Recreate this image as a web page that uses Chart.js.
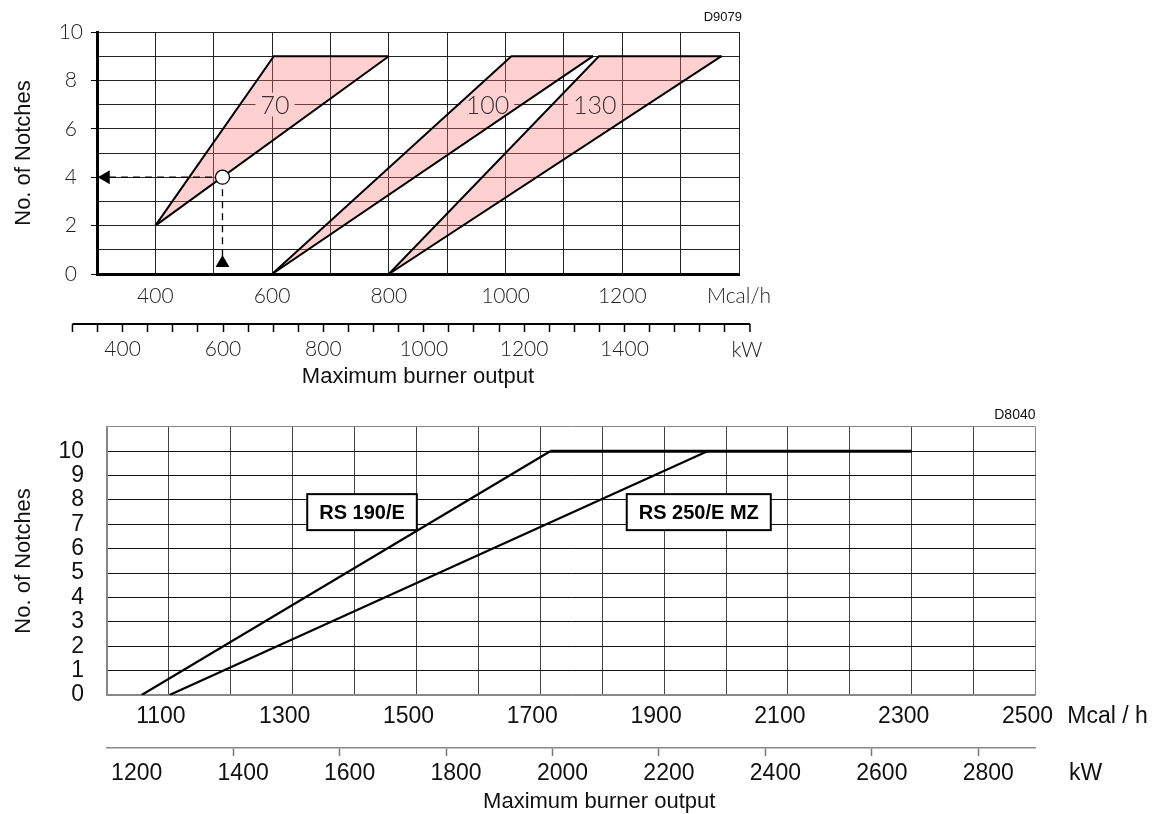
<!DOCTYPE html>
<html>
<head>
<meta charset="utf-8">
<title>No. of Notches / Maximum burner output</title>
<script src="https://cdn.jsdelivr.net/npm/chart.js@4.4.1/dist/chart.umd.min.js"></script>
<style>
  html, body { margin: 0; padding: 0; background: #fff; overflow: hidden; }
  .box { position: absolute; left: 0; }
  #gasBox { top: 0; width: 800px; height: 390px; }
  #oilBox { top: 390px; width: 1153px; height: 424px; }
</style>
</head>
<body>
<div class="box" id="gasBox"><canvas id="gasChart"></canvas></div>
<div class="box" id="oilBox"><canvas id="oilChart"></canvas></div>
<script>
const KW_PER_MCAL = 1.163;

// upper chart, pink bands (x = Mcal/h, y = notches)
const band70UpperX = [400, 603, 800];
const band70UpperY = [2, 9, 9];
const band70LowerX = [400, 800];
const band70LowerY = [2, 9];
const band100UpperX = [600, 1010, 1150];
const band100UpperY = [0, 9, 9];
const band100LowerX = [600, 1150];
const band100LowerY = [0, 9];
const band130UpperX = [800, 1160, 1370];
const band130UpperY = [0, 9, 9];
const band130LowerX = [800, 1370];
const band130LowerY = [0, 9];
const bandNames = ["70", "100", "130"];

// worked example: 515 Mcal/h gives 4 notches
const exampleX = 515;
const exampleY = 4;

// lower chart lines
const rs190X = [1056, 1716];
const rs190Y = [0, 10];
const rs190CapX = [1716, 2300];
const rs190CapY = [10, 10];
const rs250X = [1101, 1970];
const rs250Y = [0, 10];
const modelNames = ["RS 190/E", "RS 250/E MZ"];

// where the in-plot names sit (data units)
const bandNameAt = [[605, 7], [969, 7], [1153, 7]];
const modelNameAt = [[1412, 7.5], [1956, 7.5]];
const gasKwAxisEnds = [300, 1650];

const pts = (xs, ys) => xs.map((x, i) => ({ x: x, y: ys[i] }));

const bandOutlines = [
  [band70UpperX, band70UpperY, band70LowerX, band70LowerY],
  [band100UpperX, band100UpperY, band100LowerX, band100LowerY],
  [band130UpperX, band130UpperY, band130LowerX, band130LowerY],
];

const thin = { family: "Lato", weight: 300, size: 21 };
const arial = { family: "Liberation Sans, Arial, sans-serif", size: 23 };
const titleFont = { family: "Liberation Sans, Arial, sans-serif", size: 22 };
const pink = "rgba(255, 120, 120, 0.35)";

function edge(xs, ys, fillNext) {
  return {
    data: pts(xs, ys),
    borderColor: "#000",
    borderWidth: 2,
    pointRadius: 0,
    fill: fillNext ? "+1" : false,
    backgroundColor: pink,
  };
}

const gasExtras = {
  id: "gasExtras",
  // band names go under the outlines, over the fill
  beforeDatasetsDraw(chart) {
    const { ctx, scales } = chart;
    const x = scales.x, y = scales.y;
    ctx.save();
    ctx.font = "300 25px Lato";
    ctx.textAlign = "center";
    ctx.textBaseline = "middle";
    bandNames.forEach((t, i) => {
      const px = x.getPixelForValue(bandNameAt[i][0]);
      const py = y.getPixelForValue(bandNameAt[i][1]);
      const w = ctx.measureText(t).width + 10;
      const [ux, uy, lx, ly] = bandOutlines[i];

      // keep the patch inside its band
      ctx.save();
      ctx.beginPath();
      ux.forEach((v, k) => ctx.lineTo(x.getPixelForValue(v), y.getPixelForValue(uy[k])));
      for (let k = lx.length - 1; k >= 0; k--) {
        ctx.lineTo(x.getPixelForValue(lx[k]), y.getPixelForValue(ly[k]));
      }
      ctx.closePath();
      ctx.clip();
      ctx.fillStyle = "#ffd0d0";
      ctx.fillRect(px - w / 2, py - 12, w, 24);
      ctx.restore();

      ctx.fillStyle = "#333";
      ctx.fillText(t, px, py + 1);
    });
    ctx.restore();
  },
  afterDraw(chart) {
    const { ctx, chartArea, scales } = chart;
    const kw = scales.kw;
    ctx.save();
    ctx.textAlign = "center";
    ctx.textBaseline = "middle";

    // kW axis line runs past the plot on both sides
    const a = kw.getPixelForValue(gasKwAxisEnds[0]);
    const b = kw.getPixelForValue(gasKwAxisEnds[1]);
    ctx.strokeStyle = "#000";
    ctx.lineWidth = 2;
    ctx.beginPath();
    ctx.moveTo(a, kw.top);
    ctx.lineTo(b, kw.top);
    ctx.stroke();
    ctx.lineWidth = 1.5;
    [a, b].forEach((px) => {
      ctx.beginPath();
      ctx.moveTo(px, kw.top);
      ctx.lineTo(px, kw.top + 8);
      ctx.stroke();
    });

    ctx.fillStyle = "#222";
    ctx.font = "300 21px Lato";
    ctx.fillText("kW", b - 3, kw.top + 26);

    ctx.font = "13px 'Liberation Sans'";
    ctx.textAlign = "right";
    ctx.fillStyle = "#111";
    ctx.fillText("D9079", chartArea.right + 3, 17);
    ctx.restore();
  },
};

new Chart(document.getElementById("gasChart"), {
  type: "line",
  data: {
    datasets: [
      {
        data: [{ x: 315, y: exampleY }],
        showLine: false,
        pointStyle: "triangle",
        pointRotation: 270,
        pointRadius: 8,
        pointBackgroundColor: "#000",
        pointBorderColor: "#000",
        pointBorderWidth: 0,
      },
      {
        data: [{ x: exampleX, y: 0.45 }],
        showLine: false,
        pointStyle: "triangle",
        pointRadius: 8,
        pointBackgroundColor: "#000",
        pointBorderColor: "#000",
        pointBorderWidth: 0,
      },
      {
        data: [{ x: exampleX, y: exampleY }],
        showLine: false,
        pointRadius: 7,
        pointBackgroundColor: "#fff",
        pointBorderColor: "#000",
        pointBorderWidth: 1.3,
      },
      {
        data: [{ x: 300, y: exampleY }, { x: exampleX, y: exampleY }],
        borderColor: "#000",
        borderWidth: 1.3,
        borderDash: [7, 5],
        pointRadius: 0,
      },
      {
        data: [{ x: exampleX, y: exampleY }, { x: exampleX, y: 0.45 }],
        borderColor: "#000",
        borderWidth: 1.3,
        borderDash: [7, 5],
        pointRadius: 0,
      },
      edge(band70UpperX, band70UpperY, true),
      edge(band70LowerX, band70LowerY, false),
      edge(band100UpperX, band100UpperY, true),
      edge(band100LowerX, band100LowerY, false),
      edge(band130UpperX, band130UpperY, true),
      edge(band130LowerX, band130LowerY, false),
    ],
  },
  options: {
    responsive: true,
    maintainAspectRatio: false,
    animation: false,
    events: [],
    layout: { padding: { left: 0, right: 61, top: 32, bottom: 0 } },
    plugins: {
      legend: { display: false },
      tooltip: { enabled: false },
      filler: { drawTime: "beforeDatasetsDraw" },
    },
    scales: {
      x: {
        type: "linear",
        min: 300,
        max: 1400,
        afterFit: (s) => { s.height = 50; },
        ticks: {
          stepSize: 100,
          autoSkip: false,
          maxRotation: 0,
          padding: 10,
          color: "#222",
          font: thin,
          callback: (v) => (v === 1400 ? "Mcal/h" : v % 200 === 0 ? String(v) : ""),
        },
        grid: { color: "#222", lineWidth: 1, drawTicks: false },
        border: { color: "#000", width: 3 },
      },
      kw: {
        type: "linear",
        axis: "x",
        position: "bottom",
        min: 300 * KW_PER_MCAL,
        max: 1400 * KW_PER_MCAL,
        afterFit: (s) => { s.height = 66; },
        ticks: {
          stepSize: 50,
          includeBounds: false,
          autoSkip: false,
          maxRotation: 0,
          padding: 5,
          color: "#222",
          font: thin,
          callback: (v) => (v % 200 === 0 && v <= 1400 ? String(v) : ""),
        },
        grid: { drawOnChartArea: false, tickLength: 8, tickColor: "#000", tickWidth: 1.5 },
        border: { color: "#000", width: 2 },
        title: {
          display: true,
          text: "Maximum burner output",
          font: titleFont,
          color: "#111",
          padding: { top: 0, bottom: 0 },
        },
      },
      y: {
        min: 0,
        max: 10,
        afterFit: (s) => { s.width = 97; },
        ticks: {
          stepSize: 1,
          autoSkip: false,
          crossAlign: "center",
          padding: 8,
          color: "#222",
          font: thin,
          callback: (v) => (v % 2 === 0 ? String(v) : ""),
        },
        grid: {
          color: "#222",
          tickLength: 6,
          tickColor: (c) => (c.tick && c.tick.value % 2 === 0 ? "#000" : "rgba(0,0,0,0)"),
        },
        border: { color: "#000", width: 3 },
        title: {
          display: true,
          text: "No. of Notches",
          font: titleFont,
          color: "#111",
          padding: { top: 11, bottom: 0 },
        },
      },
    },
  },
  plugins: [gasExtras],
});

const oilExtras = {
  id: "oilExtras",
  afterDraw(chart) {
    const { ctx, chartArea, scales } = chart;
    const x = scales.x, y = scales.y, kw = scales.kw;
    ctx.save();
    ctx.textAlign = "center";
    ctx.textBaseline = "middle";

    ctx.font = "bold 20px 'Liberation Sans'";
    modelNames.forEach((t, i) => {
      const px = x.getPixelForValue(modelNameAt[i][0]);
      const py = y.getPixelForValue(modelNameAt[i][1]);
      const w = ctx.measureText(t).width + 24;
      ctx.fillStyle = "#fff";
      ctx.fillRect(px - w / 2, py - 18, w, 36);
      ctx.strokeStyle = "#000";
      ctx.lineWidth = 2;
      ctx.strokeRect(px - w / 2, py - 18, w, 36);
      ctx.fillStyle = "#000";
      ctx.fillText(t, px, py + 1);
    });

    ctx.fillStyle = "#111";
    ctx.font = "23px 'Liberation Sans'";
    ctx.fillText("Mcal / h", chartArea.right + 72, x.top + 22);
    ctx.fillText("kW", chartArea.right + 50, kw.top + 26);
    ctx.font = "22px 'Liberation Sans'";
    ctx.fillText("Maximum burner output", (chartArea.left + chartArea.right) / 2 + 28, kw.top + 54);

    ctx.font = "14px 'Liberation Sans'";
    ctx.textAlign = "right";
    ctx.fillText("D8040", chartArea.right, chartArea.top - 12);
    ctx.restore();
  },
};

const isEdge = (c, lo, hi) => c.tick && (c.tick.value === lo || c.tick.value === hi);

new Chart(document.getElementById("oilChart"), {
  type: "line",
  data: {
    datasets: [
      { data: pts(rs190CapX, rs190CapY), borderColor: "#000", borderWidth: 3, pointRadius: 0 },
      { data: pts(rs190X, rs190Y), borderColor: "#000", borderWidth: 2.2, pointRadius: 0 },
      { data: pts(rs250X, rs250Y), borderColor: "#000", borderWidth: 2.2, pointRadius: 0 },
    ],
  },
  options: {
    responsive: true,
    maintainAspectRatio: false,
    animation: false,
    events: [],
    layout: { padding: { left: 0, right: 117.5, top: 21, bottom: 0 } },
    plugins: { legend: { display: false }, tooltip: { enabled: false } },
    scales: {
      x: {
        type: "linear",
        min: 1000,
        max: 2500,
        afterFit: (s) => { s.height = 53; },
        ticks: {
          stepSize: 100,
          autoSkip: false,
          maxRotation: 0,
          padding: 8,
          labelOffset: -8,
          color: "#111",
          font: arial,
          callback: (v) => ((v / 100) % 2 === 1 ? String(v) : ""),
        },
        grid: { drawTicks: false, color: (c) => (isEdge(c, 1000, 2500) ? "#888" : "#444") },
        border: { color: "#888", width: 1.5 },
      },
      kw: {
        type: "linear",
        axis: "x",
        position: "bottom",
        min: 1000 * KW_PER_MCAL,
        max: 2500 * KW_PER_MCAL,
        afterFit: (s) => { s.height = 66; },
        ticks: {
          stepSize: 200,
          includeBounds: false,
          autoSkip: false,
          maxRotation: 0,
          padding: 4,
          labelOffset: 10,
          color: "#111",
          font: arial,
          callback: (v) => String(v),
        },
        grid: {
          drawOnChartArea: false,
          tickLength: 8,
          tickWidth: 1.5,
          tickColor: (c) => (c.tick && c.tick.value === 1200 ? "rgba(0,0,0,0)" : "#777"),
        },
        border: { color: "#888", width: 1.5 },
      },
      y: {
        min: 0,
        max: 11,
        afterFit: (s) => { s.width = 107; },
        ticks: {
          stepSize: 1,
          autoSkip: false,
          padding: 23,
          color: "#111",
          font: arial,
          callback: (v) => (v <= 10 ? String(v) : ""),
        },
        grid: { drawTicks: false, color: (c) => (isEdge(c, 0, 11) ? "#888" : "#111") },
        border: { color: "#888", width: 1.5 },
        title: {
          display: true,
          text: "No. of Notches",
          font: titleFont,
          color: "#111",
          padding: { top: 11, bottom: 0 },
        },
      },
    },
  },
  plugins: [oilExtras],
});
</script>
</body>
</html>
